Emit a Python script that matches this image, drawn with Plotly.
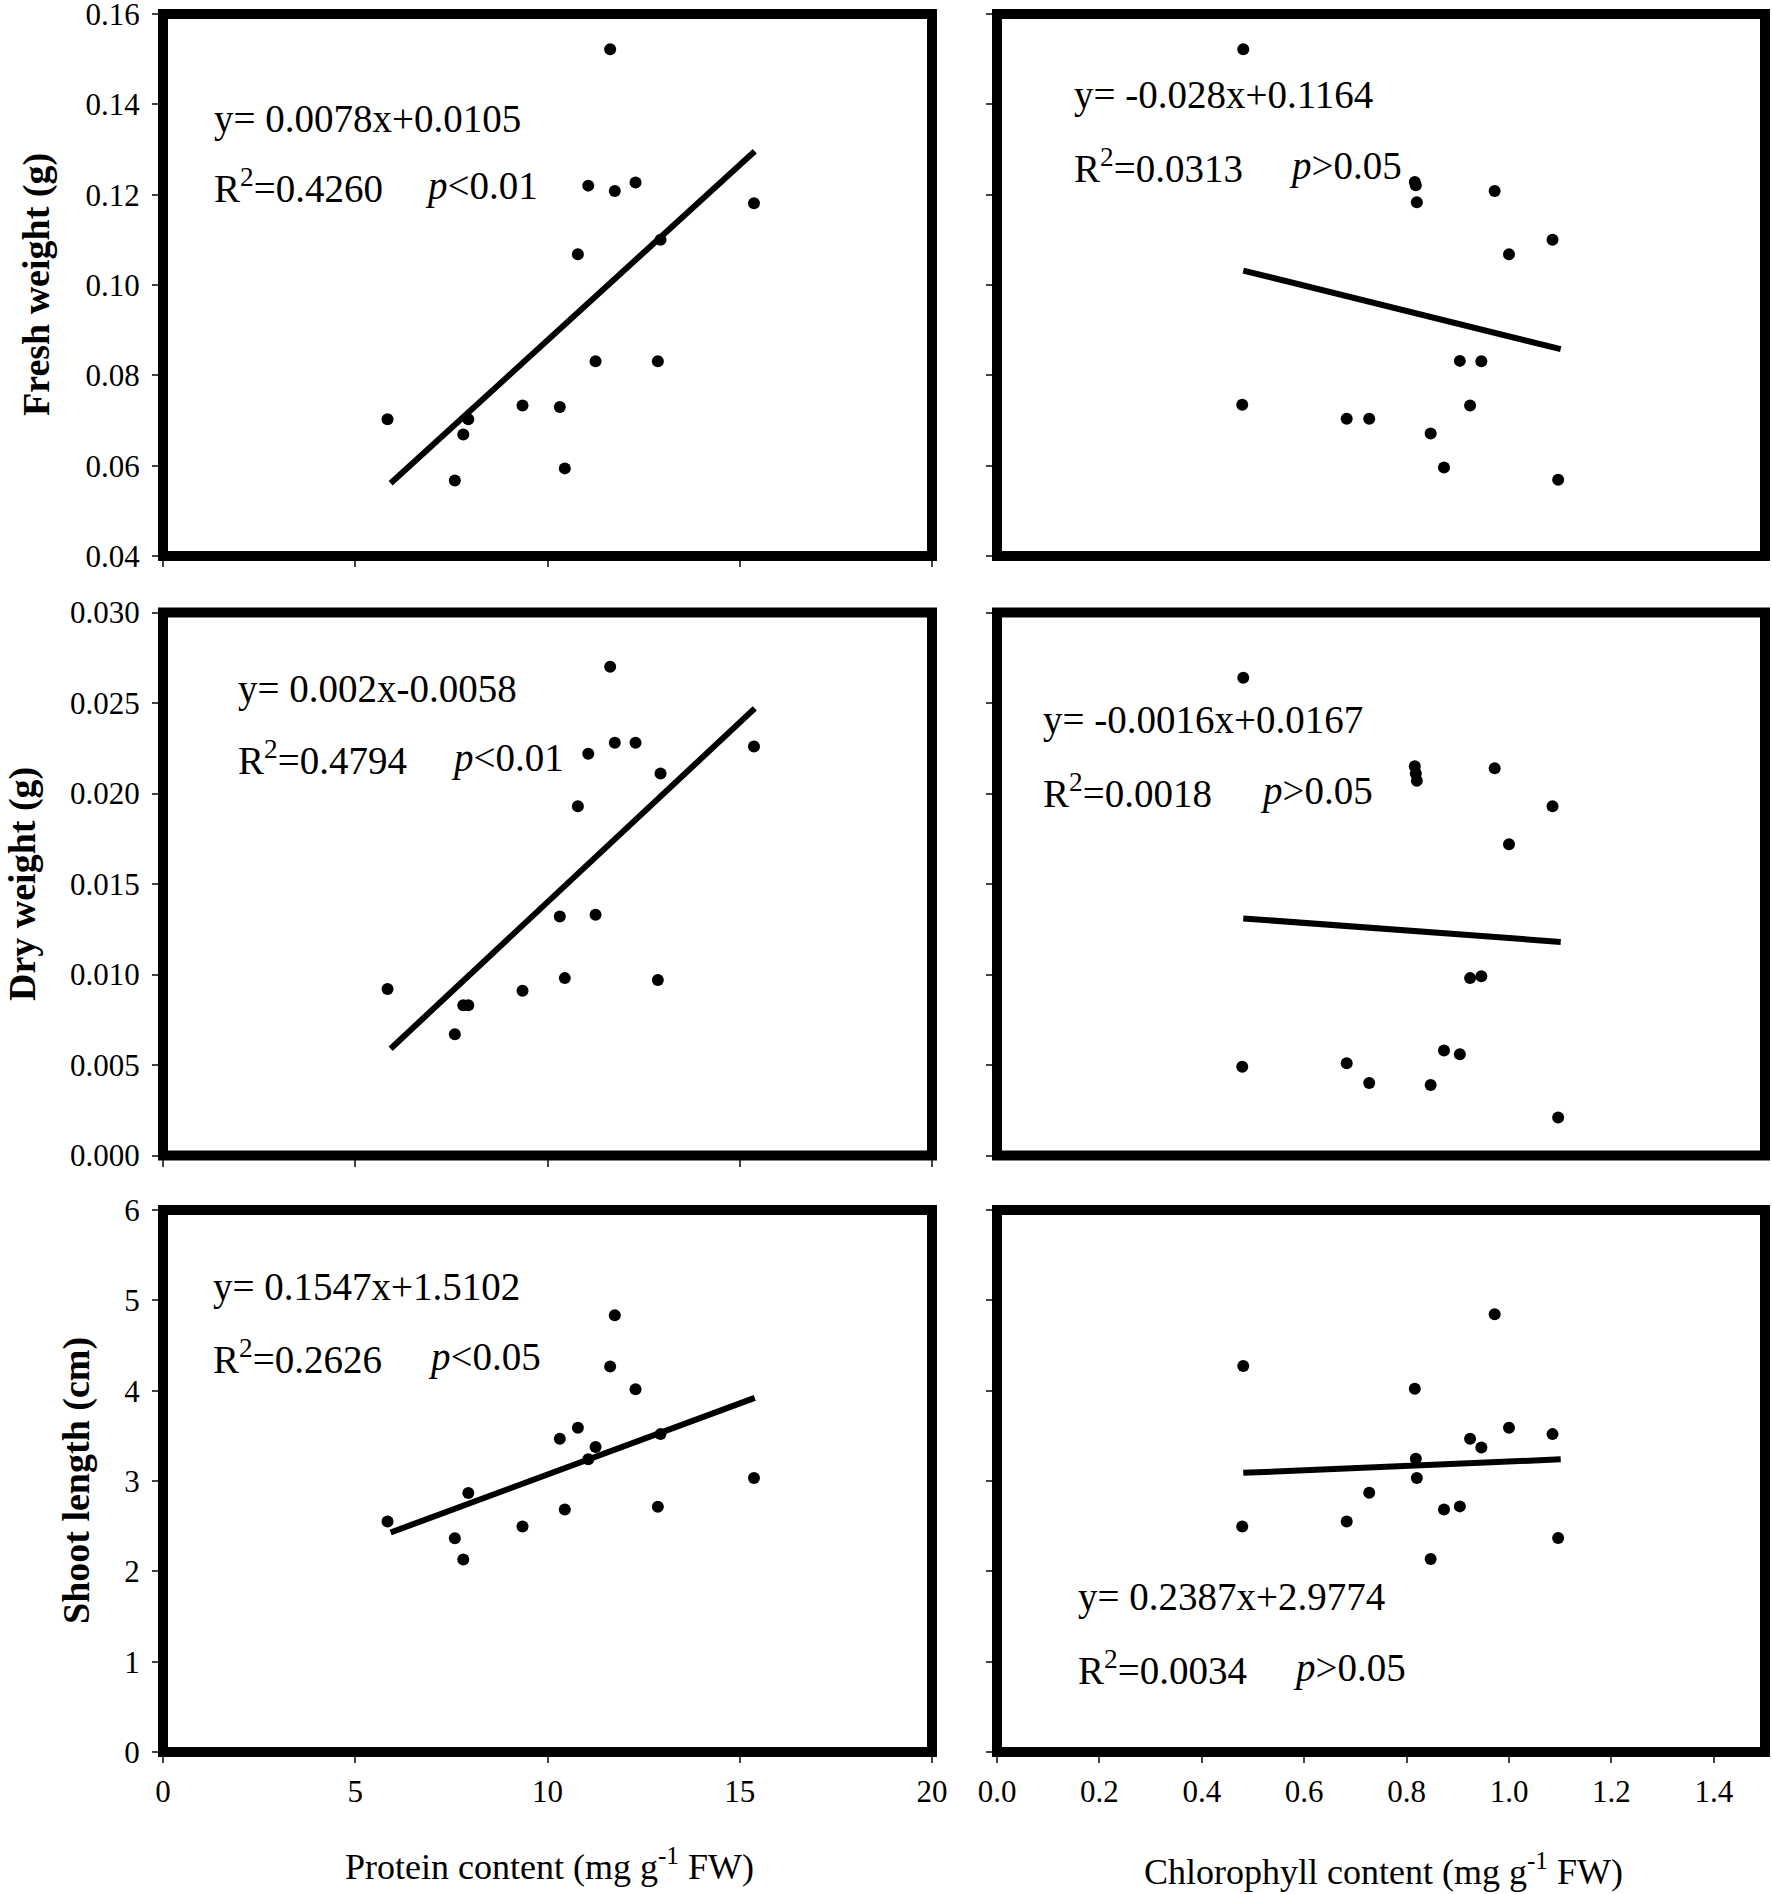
import plotly.graph_objects as go

W, H = 1772, 1894
FONT = "Liberation Serif, Times New Roman, serif"

# ---------------- data ----------------
protein = [11.63, 11.06, 11.75, 12.29, 15.37, 12.94, 10.79, 11.25, 12.87, 9.35, 10.32, 5.84, 7.94, 7.81, 10.45, 7.59]
fresh_vs_protein = [0.1522, 0.1220, 0.1208, 0.1227, 0.1181, 0.1100, 0.1068, 0.0831, 0.0831, 0.0733, 0.0730, 0.0703, 0.0703, 0.0669, 0.0594, 0.0567]
dry_vs_protein = [0.0270, 0.0222, 0.0228, 0.0228, 0.0226, 0.0211, 0.0193, 0.0133, 0.0097, 0.0091, 0.0132, 0.0092, 0.0083, 0.0083, 0.0098, 0.0067]
shoot_vs_protein = [4.268, 3.241, 4.835, 4.015, 3.033, 3.519, 3.590, 3.377, 2.714, 2.496, 3.468, 2.552, 2.866, 2.132, 2.684, 2.365]

chlorophyll = [0.481, 0.816, 0.818, 0.820, 0.972, 1.085, 1.000, 0.904, 0.946, 0.479, 0.924, 0.683, 0.727, 0.847, 0.873, 1.096]
fresh_vs_chl = [0.1522, 0.1228, 0.1221, 0.1183, 0.1208, 0.1100, 0.1068, 0.0832, 0.0831, 0.0735, 0.0733, 0.0704, 0.0704, 0.0671, 0.0596, 0.0569]
dry_vs_chl = [0.0264, 0.0215, 0.0211, 0.0207, 0.0214, 0.0193, 0.0172, 0.0056, 0.0099, 0.0049, 0.0098, 0.0051, 0.0040, 0.0039, 0.0058, 0.0021]
shoot_vs_chl = [4.273, 4.020, 3.246, 3.033, 4.846, 3.519, 3.590, 2.719, 3.372, 2.496, 3.468, 2.552, 2.871, 2.137, 2.684, 2.370]

# regression line end points as drawn
fit_x_protein = [5.92, 15.39]
fit_x_chl = [0.481, 1.101]
fit_fresh_protein = [0.0561, 0.1296]
fit_fresh_chl = [0.1032, 0.0858]
fit_dry_protein = [0.0059, 0.0247]
fit_dry_chl = [0.0131, 0.0118]
fit_shoot_protein = [2.43, 3.92]
fit_shoot_chl = [3.09, 3.24]

equations = ["y= 0.0078x+0.0105", "y= -0.028x+0.1164", "y= 0.002x-0.0058",
             "y= -0.0016x+0.0167", "y= 0.1547x+1.5102", "y= 0.2387x+2.9774"]
r2_values = ["0.4260", "0.0313", "0.4794", "0.0018", "0.2626", "0.0034"]
p_texts = ["&lt;0.01", "&gt;0.05", "&lt;0.01", "&gt;0.05", "&lt;0.05", "&gt;0.05"]

y_titles = ["Fresh weight (g)", "Dry weight (g)", "Shoot length (cm)"]
x_titles = ["Protein content (mg g<sup>-1</sup> FW)", "Chlorophyll content (mg g<sup>-1</sup> FW)"]

# ---------------- layout geometry ----------------
def px(x):
    return x / W

def py(y):
    return 1 - y / H

x_dom = [[px(163), px(932)], [px(997), px(1765)]]
y_dom = [[py(556), py(14)], [py(1155.5), py(612.5)], [py(1752), py(1210)]]

panels = [
    (protein, fresh_vs_protein, fit_x_protein, fit_fresh_protein),
    (chlorophyll, fresh_vs_chl, fit_x_chl, fit_fresh_chl),
    (protein, dry_vs_protein, fit_x_protein, fit_dry_protein),
    (chlorophyll, dry_vs_chl, fit_x_chl, fit_dry_chl),
    (protein, shoot_vs_protein, fit_x_protein, fit_shoot_protein),
    (chlorophyll, shoot_vs_chl, fit_x_chl, fit_shoot_chl),
]

fig = go.Figure()
for i, (xs, ys, fx, fy) in enumerate(panels):
    suf = "" if i == 0 else str(i + 1)
    fig.add_trace(go.Scatter(x=xs, y=ys, mode="markers", xaxis="x" + suf, yaxis="y" + suf,
                             marker=dict(color="black", size=12), showlegend=False, cliponaxis=False))
    fig.add_trace(go.Scatter(x=fx, y=fy, mode="lines", xaxis="x" + suf, yaxis="y" + suf,
                             line=dict(color="black", width=6), showlegend=False))

tickfont = dict(family=FONT, size=31, color="black")
y_ranges = [[0.04, 0.16], [0, 0.030], [0, 6]]
y_dticks = [0.02, 0.005, 1]
y_formats = [".2f", ".3f", "d"]

layout = dict(width=W, height=H, margin=dict(l=0, r=0, t=0, b=0, autoexpand=False),
              paper_bgcolor="white", plot_bgcolor="white", showlegend=False)
shapes = []
for i in range(6):
    row, col = divmod(i, 2)
    suf = "" if i == 0 else str(i + 1)
    xa = dict(domain=x_dom[col], anchor="y" + suf, showgrid=False, zeroline=False, automargin=False,
              showline=True, linecolor="black", linewidth=2, ticklabeloverflow="allow",
              tickfont=tickfont, ticklabelstandoff=2)
    if col == 0:
        xa.update(range=[0, 20], dtick=5, tick0=0)
    else:
        xa.update(range=[0, 1.5], dtick=0.2, tick0=0, tickformat=".1f")
    if row == 2:
        xa.update(ticks="outside", ticklen=9, tickwidth=2, showticklabels=True)
    elif col == 0:
        xa.update(ticks="outside", ticklen=9, tickwidth=2, showticklabels=False)
    else:
        xa.update(ticks="", showticklabels=False)
    ya = dict(domain=y_dom[row], anchor="x" + suf, showgrid=False, zeroline=False, automargin=False,
              showline=True, linecolor="black", linewidth=2, ticklabeloverflow="allow",
              range=y_ranges[row], dtick=y_dticks[row], tick0=0, tickformat=y_formats[row],
              ticks="outside", ticklen=9, tickwidth=2, tickfont=tickfont,
              showticklabels=(col == 0), ticklabelstandoff=6)
    layout["xaxis" + suf] = xa
    layout["yaxis" + suf] = ya
    shapes.append(dict(type="rect", xref="x" + suf + " domain", yref="y" + suf + " domain",
                       x0=0, x1=1, y0=0, y1=1, line=dict(color="black", width=10),
                       fillcolor="rgba(0,0,0,0)"))
layout["shapes"] = shapes

annfont = dict(family=FONT, size=39, color="black")
ann = []
# equation text positions (pixel coords: left x, line1 y, line2 y, p x)
eq_pos = [(212, 119, 186, 423), (1072, 95, 166, 1287), (236, 689, 758, 449),
          (1041, 720, 791, 1258), (211, 1287, 1357, 426), (1076, 1597, 1668, 1291)]
for i, (lx, y1, y2, pxx) in enumerate(eq_pos):
    ann.append(dict(x=px(lx), y=py(y1), xref="paper", yref="paper", xanchor="left", yanchor="middle",
                    text=equations[i], showarrow=False, font=annfont))
    ann.append(dict(x=px(lx), y=py(y2), xref="paper", yref="paper", xanchor="left", yanchor="middle",
                    text="R<sup>2</sup>=" + r2_values[i], showarrow=False, font=annfont))
    ann.append(dict(x=px(pxx), y=py(y2), xref="paper", yref="paper", xanchor="left", yanchor="middle",
                    text="<i>p</i>" + p_texts[i], showarrow=False, font=annfont))

ytitle_pos = [(36, 285), (22, 884), (76, 1481)]
for t, (tx, ty) in zip(y_titles, ytitle_pos):
    ann.append(dict(x=px(tx), y=py(ty), xref="paper", yref="paper", xanchor="center", yanchor="middle",
                    text="<b>" + t + "</b>", textangle=-90, showarrow=False,
                    font=dict(family=FONT, size=38, color="black")))
xtitle_pos = [(549, 1864), (1383, 1869)]
for t, (tx, ty) in zip(x_titles, xtitle_pos):
    ann.append(dict(x=px(tx), y=py(ty), xref="paper", yref="paper", xanchor="center", yanchor="middle",
                    text=t, showarrow=False, font=dict(family=FONT, size=36, color="black")))
layout["annotations"] = ann

fig.update_layout(**layout)
fig.write_html("out.html", config={"displayModeBar": False},
               post_script="document.body.style.margin='0';document.body.style.overflow='hidden';")
